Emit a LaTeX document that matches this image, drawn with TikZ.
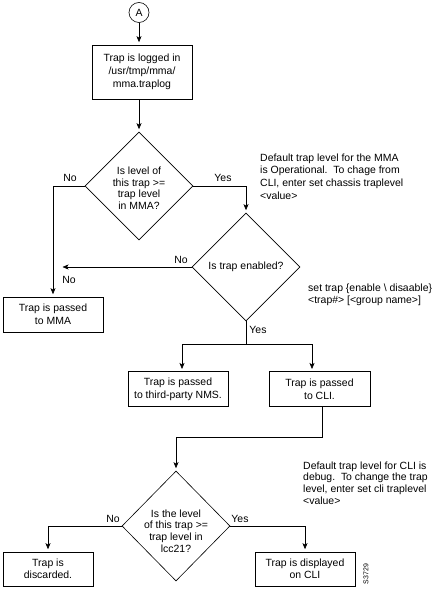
\documentclass[tikz,border=0pt]{standalone}
\usepackage{fontspec}
\setmainfont{Liberation Sans}
\usetikzlibrary{shapes.geometric,arrows.meta}
\begin{document}
\begin{tikzpicture}[x=1bp,y=-1bp,
  every node/.style={font=\fontsize{10.5}{13}\selectfont},
  box/.style={draw, line width=0.6bp, align=center, inner sep=0},
  dia/.style={draw, diamond, aspect=1, inner sep=0, line width=0.6bp, minimum width=108bp, minimum height=108bp},
  diatext/.style={align=center, inner sep=0, font=\fontsize{10.5}{11.6}\selectfont},
  conn/.style={line width=0.6bp, -{Stealth[length=6bp,width=5bp,inset=1.5bp]}, shorten >=2.5bp},
  lbl/.style={inner sep=0},
  note/.style={align=left, anchor=base west, inner sep=0}]
\useasboundingbox (0,0) rectangle (445,589);

% nodes
\node[draw, circle, line width=0.6bp, minimum size=20bp, inner sep=0] (A) at (139,12.5) {A};
\node[box, minimum width=100bp, minimum height=54bp] (b1) at (142,72) {Trap is logged in\\/usr/tmp/mma/\\mma.traplog};
\node[dia] (d1) at (139,186) {};
\node[diatext] (t1) at (139,188) {Is level of\\this trap >=\\trap level\\in MMA?};
\node[box, minimum width=100bp, minimum height=35bp] (mma) at (53,314.5) {Trap is passed\\to MMA};
\node[dia] (d2) at (246,267) {};
\node[diatext] (t2) at (246,267) {Is trap enabled?};
\node[box, minimum width=100bp, minimum height=35bp] (nms) at (178,389) {Trap is passed\\to third-party NMS.};
\node[box, minimum width=101bp, minimum height=35bp] (cli) at (319.5,389) {Trap is passed\\to CLI.};
\node[dia, minimum width=108bp, minimum height=110bp] (d3) at (176,526) {};
\node[diatext] (t3) at (176,531) {Is the level\\of this trap >=\\trap level in\\lcc21?};
\node[box, minimum width=90bp, minimum height=34bp, font=\fontsize{10.5}{11.8}\selectfont] (disc) at (48,569) {Trap is\\discarded.};
\node[box, minimum width=100bp, minimum height=34bp, font=\fontsize{10.5}{11.8}\selectfont] (disp) at (305,569) {Trap is displayed\\on CLI};

% helper coordinates
\coordinate (noend) at (60,267);
\coordinate (split) at (246,344);
\coordinate (nmsin) at (182,371.5);
\coordinate (cliin) at (312,371.5);
\coordinate (cliout) at (322,406.5);
\coordinate (bend) at (322,437);

% connectors
\draw[conn] (A) -- (b1.north -| A);
\draw[conn] (b1.south -| d1) -- (d1.north);
\draw[conn] (d1.west) -| (mma.north);
\draw[conn] (d1.east) -| (d2.north);
\draw[conn] (d2.west) -- (noend);
\draw[line width=0.6bp] (d2.south) -- (split);
\draw[conn] (split) -| (nmsin);
\draw[conn] (split) -| (cliin);
\draw[conn] (cliout) -- (bend) -| (d3.north);
\draw[conn] (d3.west) -| (disc.north);
\draw[conn] (d3.east) -| (disp.north);

% labels
\node[lbl] (l1) at (70,178) {No};
\node[lbl] (l2) at (223,178) {Yes};
\node[lbl] (l3) at (181,260) {No};
\node[lbl] (l4) at (69,279.5) {No};
\node[lbl] (l5) at (258,330) {Yes};
\node[lbl] (l6) at (113,518.5) {No};
\node[lbl] (l7) at (240,519) {Yes};

% notes (anchored at the baseline of their last line)
\node[note, font=\fontsize{10.5}{12.7}\selectfont] (n1) at (260,199) {Default trap level for the MMA\\is Operational.\ \ To chage from\\CLI, enter set chassis traplevel\\<value>};
\node[note, font=\fontsize{10.5}{12.5}\selectfont] (n2) at (308,303.5) {set trap \{enable \textbackslash\ disaable\}\\<trap\#> [<group name>]};
\node[note, font=\fontsize{10.5}{11.6}\selectfont] (n3) at (303,504) {Default trap level for CLI is\\debug.\ \ To change the trap\\level, enter set cli traplevel\\<value>};

\node[rotate=90, inner sep=0, font=\fontsize{7}{8}\selectfont] (fig) at (366,574) {S3729};
\end{tikzpicture}
\end{document}
